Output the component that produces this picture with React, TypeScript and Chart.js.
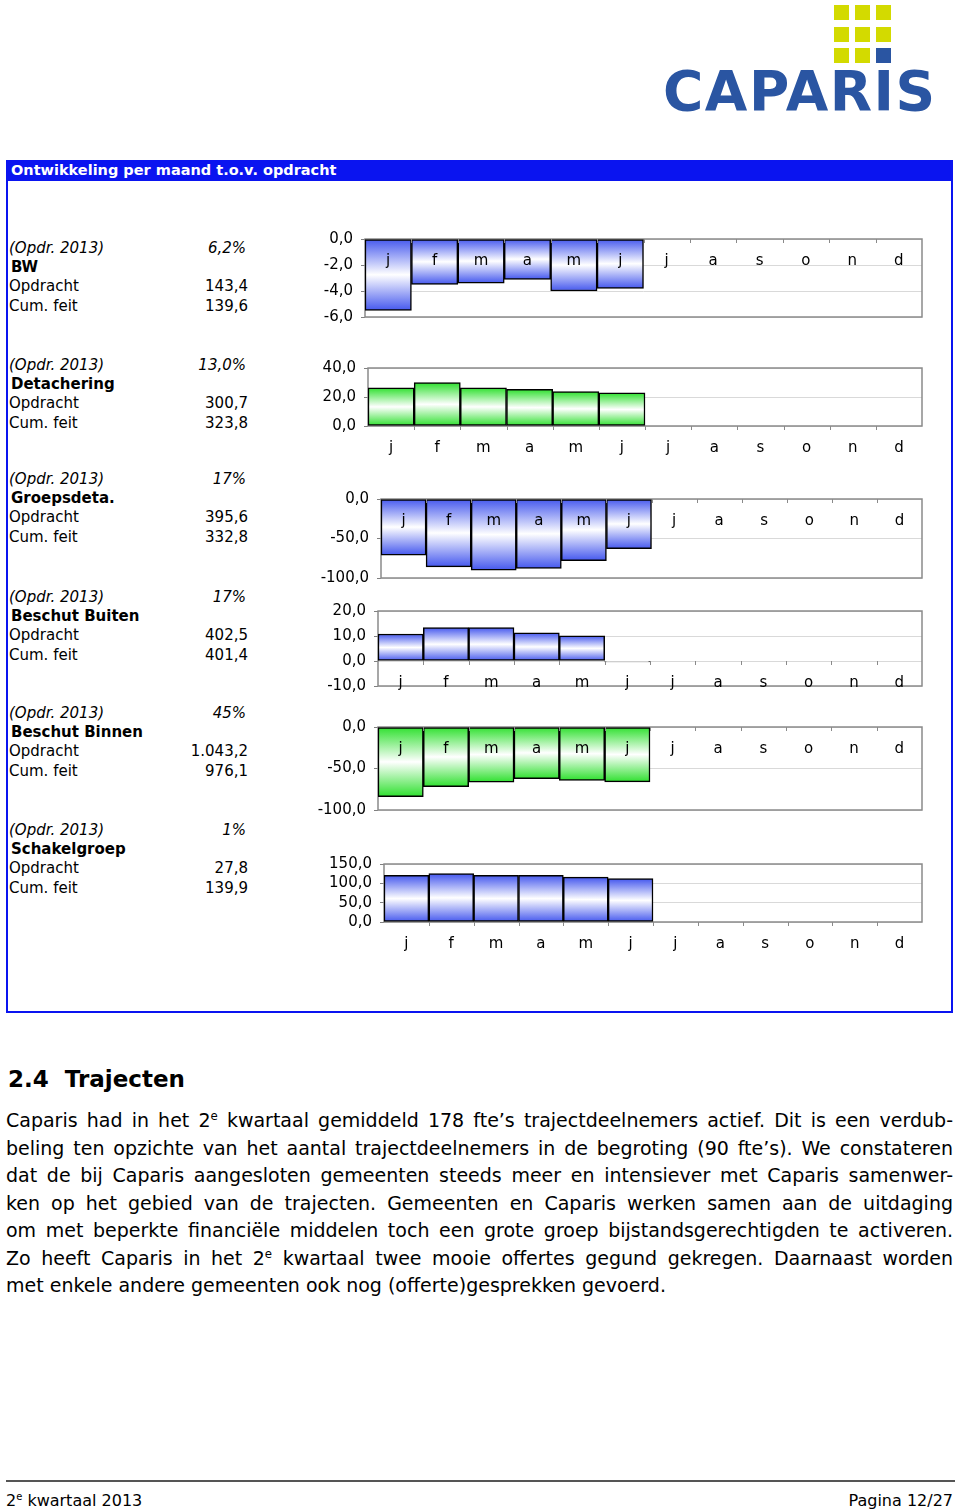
import React, { useEffect, useRef } from 'react';
import { Chart, registerables } from 'chart.js';
Chart.register(...registerables);

const FONT = '"DejaVu Sans", Verdana, sans-serif';

// ---------- data ----------
const MONTHS = ['j', 'f', 'm', 'a', 'm', 'j', 'j', 'a', 's', 'o', 'n', 'd'];

const BW_VALUES = [-5.5, -3.5, -3.4, -3.1, -4.0, -3.8, null, null, null, null, null, null];
const DETACHERING_VALUES = [26.4, 29.9, 26.4, 25.3, 23.7, 22.8, null, null, null, null, null, null];
const GROEPSDETA_VALUES = [-71, -86, -90, -88, -78, -63, null, null, null, null, null, null];
const BESCHUT_BUITEN_VALUES = [10.8, 13.4, 13.4, 11.3, 10.1, -0.4, null, null, null, null, null, null];
const BESCHUT_BINNEN_VALUES = [-84, -72, -66.5, -62.4, -64.3, -66.2, null, null, null, null, null, null];
const SCHAKELGROEP_VALUES = [121, 125, 121, 121, 116, 112, null, null, null, null, null, null];

// y axis: [min, max, step]
const BW_AXIS = [-6, 0, 2];
const DETACHERING_AXIS = [0, 40, 20];
const GROEPSDETA_AXIS = [-100, 0, 50];
const BESCHUT_BUITEN_AXIS = [-10, 20, 10];
const BESCHUT_BINNEN_AXIS = [-100, 0, 50];
const SCHAKELGROEP_AXIS = [0, 150, 50];

const SECTION_NAMES = ['BW', 'Detachering', 'Groepsdeta.', 'Beschut Buiten', 'Beschut Binnen', 'Schakelgroep'];
const SECTION_SHARE = ['6,2%', '13,0%', '17%', '17%', '45%', '1%'];
const SECTION_OPDRACHT = ['143,4', '300,7', '395,6', '402,5', '1.043,2', '27,8'];
const SECTION_CUMFEIT = ['139,6', '323,8', '332,8', '401,4', '976,1', '139,9'];

const BLUE = '#4558ee';
const GREEN = '#2fe02f';

// ---------- layout ----------
const PANELS = [
  { values: BW_VALUES, axis: BW_AXIS, color: BLUE, plotLeft: 365, plotTop: 237, plotBottom: 317, textTop: 248 },
  { values: DETACHERING_VALUES, axis: DETACHERING_AXIS, color: GREEN, plotLeft: 368, plotTop: 366, plotBottom: 426, textTop: 365 },
  { values: GROEPSDETA_VALUES, axis: GROEPSDETA_AXIS, color: BLUE, plotLeft: 381, plotTop: 497, plotBottom: 578, textTop: 479 },
  { values: BESCHUT_BUITEN_VALUES, axis: BESCHUT_BUITEN_AXIS, color: BLUE, plotLeft: 378, plotTop: 609, plotBottom: 686, textTop: 597 },
  { values: BESCHUT_BINNEN_VALUES, axis: BESCHUT_BINNEN_AXIS, color: GREEN, plotLeft: 378, plotTop: 725, plotBottom: 810, textTop: 713 },
  { values: SCHAKELGROEP_VALUES, axis: SCHAKELGROEP_AXIS, color: BLUE, plotLeft: 384, plotTop: 862, plotBottom: 922, textTop: 830 },
];

const fmt = (v: number) => v.toFixed(1).replace('.', ',');

const framePlugin = {
  id: 'frameAndLabels',
  beforeDatasetsDraw(chart: any) {
    const { ctx, chartArea: a } = chart;
    ctx.save();
    ctx.strokeStyle = '#8a8a8a';
    ctx.lineWidth = 1.5;
    ctx.strokeRect(a.left, a.top, a.right - a.left, a.bottom - a.top);
    ctx.restore();
  },
  afterDatasetsDraw(chart: any) {
    const { ctx, scales } = chart;
    const x = scales.x, y = scales.y;
    const y0 = y.getPixelForValue(0);
    const n = chart.data.labels.length;
    const w = (x.right - x.left) / n;
    ctx.save();
    ctx.strokeStyle = '#8a8a8a';
    ctx.lineWidth = 1;
    for (let i = 1; i < n; i++) {
      const px = Math.round(x.left + i * w) + 0.5;
      ctx.beginPath();
      ctx.moveTo(px, y0);
      ctx.lineTo(px, y0 + 4);
      ctx.stroke();
    }
    ctx.fillStyle = '#000';
    ctx.font = `15px ${FONT}`;
    ctx.textAlign = 'center';
    ctx.textBaseline = 'middle';
    chart.data.labels.forEach((lab: string, i: number) => {
      ctx.fillText(lab, x.getPixelForValue(i), y0 + 22);
    });
    ctx.restore();
  },
};

function BarPanel({ values, axis, color, plotLeft, plotTop, plotBottom }: any) {
  const ref = useRef<HTMLCanvasElement>(null);
  const PAD_T = 15, PAD_B = 40, LEFT = 300, WIDTH = 640, RIGHT = 922;
  const height = plotBottom - plotTop + PAD_T + PAD_B;
  useEffect(() => {
    const gradient = (c: any) => {
      const chart = c.chart;
      const y = chart.scales && chart.scales.y;
      const v = c.raw;
      if (!y || v == null) return color;
      const y0 = y.getPixelForValue(0);
      const y1 = y.getPixelForValue(v);
      if (!isFinite(y0) || !isFinite(y1) || Math.abs(y1 - y0) < 1) return color;
      const g = chart.ctx.createLinearGradient(0, y0, 0, y1);
      g.addColorStop(0, color);
      g.addColorStop(0.5, '#ffffff');
      g.addColorStop(1, color);
      return g;
    };
    const chart = new Chart(ref.current as HTMLCanvasElement, {
      type: 'bar',
      data: {
        labels: MONTHS,
        datasets: [{
          data: values,
          backgroundColor: gradient,
          borderColor: '#000000',
          borderWidth: 1.5,
          borderSkipped: false,
          barPercentage: 1,
          categoryPercentage: 1,
        }],
      },
      options: {
        responsive: false,
        animation: false,
        devicePixelRatio: 1,
        layout: { padding: { top: PAD_T, bottom: PAD_B, left: 0, right: LEFT + WIDTH - RIGHT } },
        plugins: { legend: { display: false }, tooltip: { enabled: false } },
        scales: {
          x: { display: false },
          y: {
            min: axis[0],
            max: axis[1],
            afterFit: (s: any) => { s.width = plotLeft - LEFT; },
            ticks: {
              stepSize: axis[2],
              autoSkip: false,
              color: '#000',
              padding: 8,
              font: { family: FONT, size: 15 },
              callback: (v: any) => fmt(Number(v)),
            },
            grid: { color: '#d9d9d9', lineWidth: 1, tickLength: 4, tickColor: '#808080' },
            border: { display: false },
          },
        },
      } as any,
      plugins: [framePlugin],
    });
    return () => chart.destroy();
  }, []);
  return (
    <canvas
      ref={ref}
      width={WIDTH}
      height={height}
      style={{ position: 'absolute', left: LEFT, top: plotTop - PAD_T, width: WIDTH, height }}
    />
  );
}

const txt = (top: number, left: number, content: any, extra: any = {}) => (
  <div style={{ position: 'absolute', top: top - 10, left, height: 20, lineHeight: '20px', whiteSpace: 'nowrap', ...extra }}>{content}</div>
);

function SectionText({ i, top }: any) {
  const rows = [0, 19, 38, 58];
  const valBox = { width: 120, textAlign: 'right' as const };
  return (
    <>
      {txt(top + rows[0], 9, '(Opdr. 2013)', { fontStyle: 'italic' })}
      {txt(top + rows[0], 126, SECTION_SHARE[i], { ...valBox, fontStyle: 'italic' })}
      {txt(top + rows[1], 11, SECTION_NAMES[i], { fontWeight: 'bold' })}
      {txt(top + rows[2], 9, 'Opdracht')}
      {txt(top + rows[2], 128, SECTION_OPDRACHT[i], valBox)}
      {txt(top + rows[3], 9, 'Cum. feit')}
      {txt(top + rows[3], 128, SECTION_CUMFEIT[i], valBox)}
    </>
  );
}

const Sup = ({ children }: any) => (
  <sup style={{ fontSize: '0.62em', lineHeight: 0, verticalAlign: '0.6em' }}>{children}</sup>
);

const PARA_LINES: any[] = [
  <>Caparis had in het 2<Sup>e</Sup> kwartaal gemiddeld 178 fte’s trajectdeelnemers actief. Dit is een verdub-</>,
  <>beling ten opzichte van het aantal trajectdeelnemers in de begroting (90 fte’s). We constateren</>,
  <>dat de bij Caparis aangesloten gemeenten steeds meer en intensiever met Caparis samenwer-</>,
  <>ken op het gebied van de trajecten. Gemeenten en Caparis werken samen aan de uitdaging</>,
  <>om met beperkte financiële middelen toch een grote groep bijstandsgerechtigden te activeren.</>,
  <>Zo heeft Caparis in het 2<Sup>e</Sup> kwartaal twee mooie offertes gegund gekregen. Daarnaast worden</>,
  <>met enkele andere gemeenten ook nog (offerte)gesprekken gevoerd.</>,
];

const LOGO_SQUARES_X = [834, 855, 876];
const LOGO_SQUARES_Y = [5, 27, 48];

export default function App() {
  return (
    <div style={{ position: 'absolute', left: 0, top: 0, width: 960, height: 1511, background: '#fff', fontFamily: FONT, fontSize: 15, color: '#000', overflow: 'hidden' }}>
      {/* logo */}
      {LOGO_SQUARES_Y.map((y, r) => LOGO_SQUARES_X.map((x, c) => (
        <div key={`${r}-${c}`} style={{ position: 'absolute', left: x, top: y, width: 15, height: 15, background: r === 2 && c === 2 ? '#2a55a2' : '#d3da00' }} />
      )))}
      <div style={{ position: 'absolute', left: 663, top: 56, width: 280, textAlign: 'left', fontFamily: '"DejaVu Sans", sans-serif', fontWeight: 'bold', fontSize: 55, lineHeight: '70px', letterSpacing: 1.5, color: '#2a55a2', whiteSpace: 'nowrap' }}>CAPARIS</div>

      {/* box */}
      <div style={{ position: 'absolute', left: 6, top: 160, width: 943, height: 849, border: '2px solid #0a14f0' }} />
      <div style={{ position: 'absolute', left: 6, top: 160, width: 947, height: 21, background: '#0a14f0' }} />
      <div style={{ position: 'absolute', left: 11, top: 160, height: 21, lineHeight: '21px', color: '#fff', fontWeight: 'bold', fontSize: 14.5, whiteSpace: 'nowrap' }}>Ontwikkeling per maand t.o.v. opdracht</div>

      {PANELS.map((p, i) => <SectionText key={'t' + i} i={i} top={p.textTop} />)}
      {PANELS.map((p, i) => <BarPanel key={'c' + i} {...p} />)}

      {/* section 2.4 */}
      <div style={{ position: 'absolute', left: 8, top: 1064, height: 30, lineHeight: '30px', fontSize: 23, fontWeight: 'bold', whiteSpace: 'pre' }}>{'2.4  Trajecten'}</div>
      {PARA_LINES.map((l, i) => (
        <div key={'p' + i} style={{ position: 'absolute', left: 6, top: 1107 + i * 27.5, width: 947, height: 27.5, lineHeight: '27.5px', fontSize: 19, whiteSpace: 'nowrap', textAlign: i < PARA_LINES.length - 1 ? 'justify' : 'left', textAlignLast: i < PARA_LINES.length - 1 ? 'justify' : 'left' } as any}>{l}</div>
      ))}

      {/* footer */}
      <div style={{ position: 'absolute', left: 6, top: 1480, width: 949, height: 2, background: '#555' }} />
      <div style={{ position: 'absolute', left: 6, top: 1491, height: 20, lineHeight: '20px', fontSize: 16, whiteSpace: 'nowrap' }}>2<Sup>e</Sup> kwartaal 2013</div>
      <div style={{ position: 'absolute', right: 7, top: 1491, height: 20, lineHeight: '20px', fontSize: 16, whiteSpace: 'nowrap' }}>Pagina 12/27</div>
    </div>
  );
}
